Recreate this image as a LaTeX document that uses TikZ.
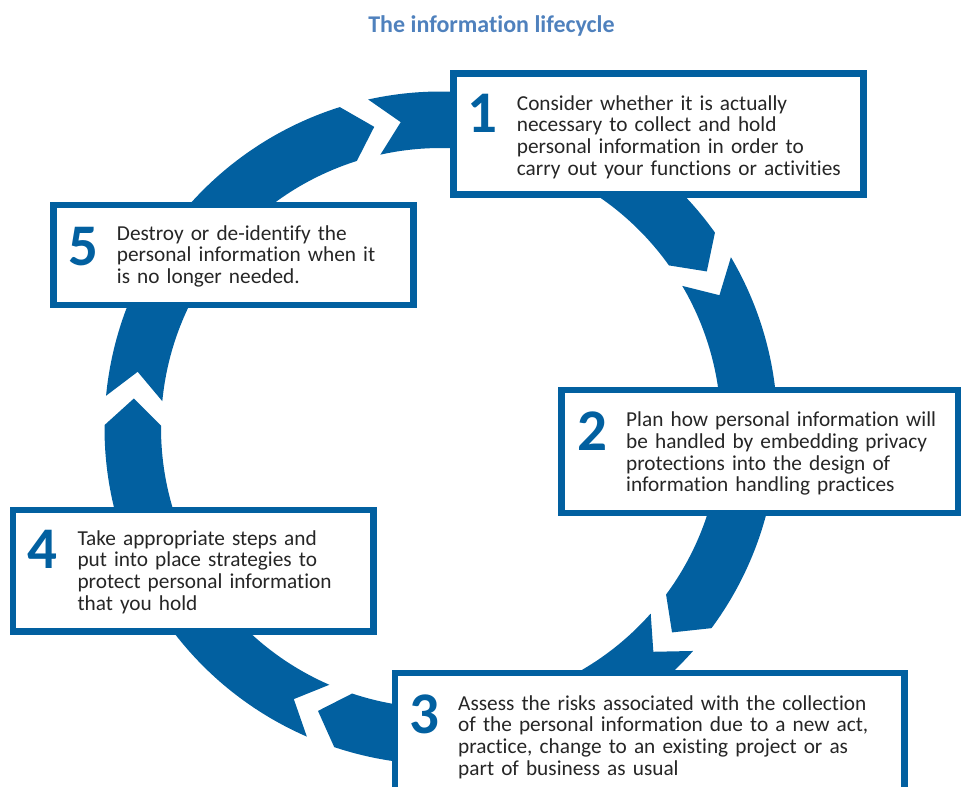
\documentclass[tikz,border=0pt]{standalone}
\usepackage{fontspec}
\setmainfont{Carlito}[Ligatures=NoCommon]
\definecolor{ringblue}{RGB}{2,96,160}
\definecolor{titleblue}{RGB}{79,129,189}
\definecolor{txt}{RGB}{38,38,38}
\begin{document}
\begin{tikzpicture}[x=1pt,y=-1pt,
  box/.style={draw=ringblue, line width=6.5pt, fill=white, inner sep=0pt},
  num/.style={font=\fontsize{59}{59}\selectfont\bfseries, text=ringblue, inner sep=0pt, anchor=base west},
  body/.style={font=\fontsize{21.3}{21.7}\selectfont, text=txt, inner sep=0pt, anchor=base west, align=left, text width=460pt},
  ringseg/.style={fill=ringblue}
]
\useasboundingbox (0,0) rectangle (961,787);
% ring of five arrows
\begin{scope}[shift={(441,428)}, x=1pt, y=1pt]
\foreach \k in {0,...,4} {
  \pgfmathsetmacro\angA{102.5-72*\k}
  \pgfmathsetmacro\angB{\angA-67}
  \pgfmathsetmacro\angT{\angA-72}
  \pgfmathsetmacro\angN{\angA-5}
  \fill[ringseg] (\angA:336.5pt) arc[start angle=\angA, end angle=\angB, radius=336.5pt]
    -- (\angT:308.5pt) -- (\angB:280pt)
    arc[start angle=\angB, end angle=\angA, radius=280pt]
    -- (\angN:308.5pt) -- cycle;
}
\end{scope}
% title
\node[font=\fontsize{24}{24}\selectfont\bfseries, text=titleblue, anchor=base, inner sep=0pt] (title) at (491.5,32) {The information lifecycle};
% boxes
\node[box, minimum width=410pt, minimum height=121pt] (box1) at (658.5,134) {};
\node[box, minimum width=360pt, minimum height=100pt] (box5) at (233.5,255) {};
\node[box, minimum width=396.5pt, minimum height=123pt] (box2) at (759.75,451.5) {};
\node[box, minimum width=360.5pt, minimum height=121.5pt] (box4) at (193.25,570.75) {};
\node[box, minimum width=509.5pt, minimum height=127pt] (box3) at (649.75,736.5) {};
% numbers
\node[num] (n1) at (467,132) {1};
\node[num] (n2) at (577,450) {2};
\node[num] (n3) at (409,733) {3};
\node[num] (n4) at (27,568) {4};
\node[num] (n5) at (68,265) {5};
% texts
\node[body] (t1) at (516.7,110) {Consider whether it is actually\\necessary to collect and hold\\personal information in order to\\carry out your functions or activities};
\node[body] (t2) at (626,426.7) {Plan how personal information will\\be handled by embedding privacy\\protections into the design of\\information handling practices};
\node[body] (t3) at (458,710) {Assess the risks associated with the collection\\of the personal information due to a new act,\\practice, change to an existing project or as\\part of business as usual};
\node[body] (t4) at (77.3,545) {Take appropriate steps and\\put into place strategies to\\protect personal information\\that you hold};
\node[body] (t5) at (116.7,240) {Destroy or de-identify the\\personal information when it\\is no longer needed.};
\end{tikzpicture}
\end{document}
